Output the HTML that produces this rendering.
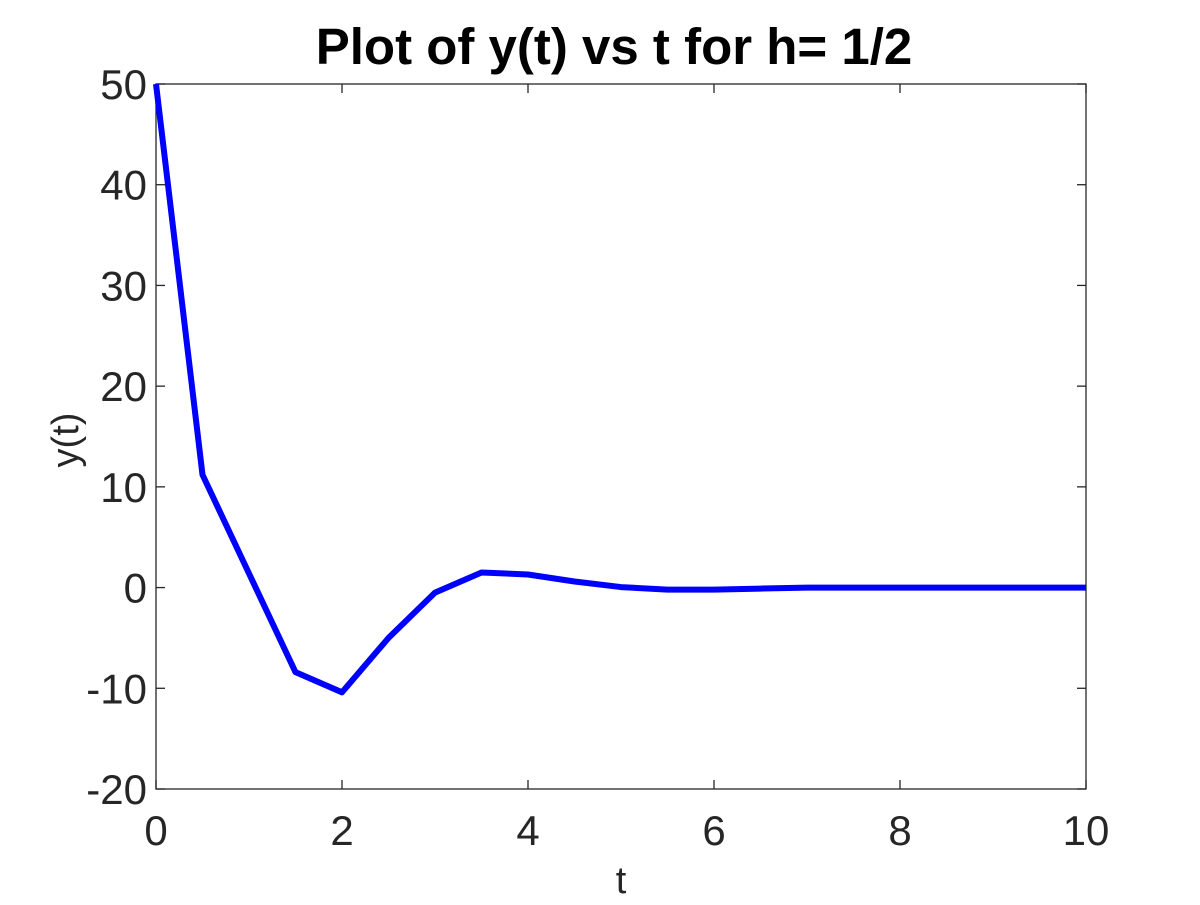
<!DOCTYPE html>
<html><head><meta charset="utf-8"><style>
body{margin:0;background:#fff;}
svg text{font-family:"Liberation Sans",sans-serif;fill:#262626;}
</style></head><body>
<svg id="chart" width="1200" height="900" xmlns="http://www.w3.org/2000/svg">
<rect width="1200" height="900" fill="#fff"/>
<g id="axes"></g>
<text x="614" y="64" text-anchor="middle" font-size="51" font-weight="bold" style="fill:#000">Plot of y(t) vs t for h= 1/2</text>
<text x="621" y="893" text-anchor="middle" font-size="38">t</text>
<text transform="translate(78,440) rotate(-90)" text-anchor="middle" font-size="38">y(t)</text>
</svg>
<script>
const tValues=[0,0.5,1,1.5,2,2.5,3,3.5,4,4.5,5,5.5,6,6.5,7,7.5,8,8.5,9,9.5,10];
const yValues=[50,11.2,1.4,-8.4,-10.4,-5,-0.5,1.5,1.3,0.6,0.05,-0.2,-0.2,-0.1,0,0,0,0,0,0,0];
const xTicks=[0,2,4,6,8,10];
const yTicks=[-20,-10,0,10,20,30,40,50];
const L=156,R=1086,T=84,B=789;
const xS=v=>L+(v-0)/(10-0)*(R-L);
const yS=v=>B-(v+20)/70*(B-T);
const NS="http://www.w3.org/2000/svg";
const g=document.getElementById('axes');
function mk(tag,attrs){const e=document.createElementNS(NS,tag);for(const k in attrs)e.setAttribute(k,attrs[k]);g.appendChild(e);return e;}
const frame=mk('rect',{x:L,y:T,width:R-L,height:B-T,fill:'none',stroke:'#262626','stroke-width':1.3});


xTicks.forEach(v=>{
  const x=xS(v);
  const t1=mk('line',{x1:x,x2:x,y1:B,y2:B-9,stroke:'#262626','stroke-width':1.3});
  
  
  const t2=mk('line',{x1:x,x2:x,y1:T,y2:T+9,stroke:'#262626','stroke-width':1.3});
  
  
  const tx=mk('text',{x:x,y:B+56,'text-anchor':'middle','font-size':42});
  tx.textContent=v;
  
  
});
yTicks.forEach(v=>{
  const y=yS(v);
  const t1=mk('line',{x1:L,x2:L+9,y1:y,y2:y,stroke:'#262626','stroke-width':1.3});
  
  
  const t2=mk('line',{x1:R,x2:R-9,y1:y,y2:y,stroke:'#262626','stroke-width':1.3});
  
  
  const tx=mk('text',{x:L-9,y:y+15,'text-anchor':'end','font-size':42});
  tx.textContent=v;
  
  
});
const pts=tValues.map((t,i)=>xS(t)+','+yS(yValues[i])).join(' ');
const line=mk('polyline',{points:pts,fill:'none',stroke:'#0000ff','stroke-width':6,'stroke-linejoin':'round'});


</script>
</body></html>
